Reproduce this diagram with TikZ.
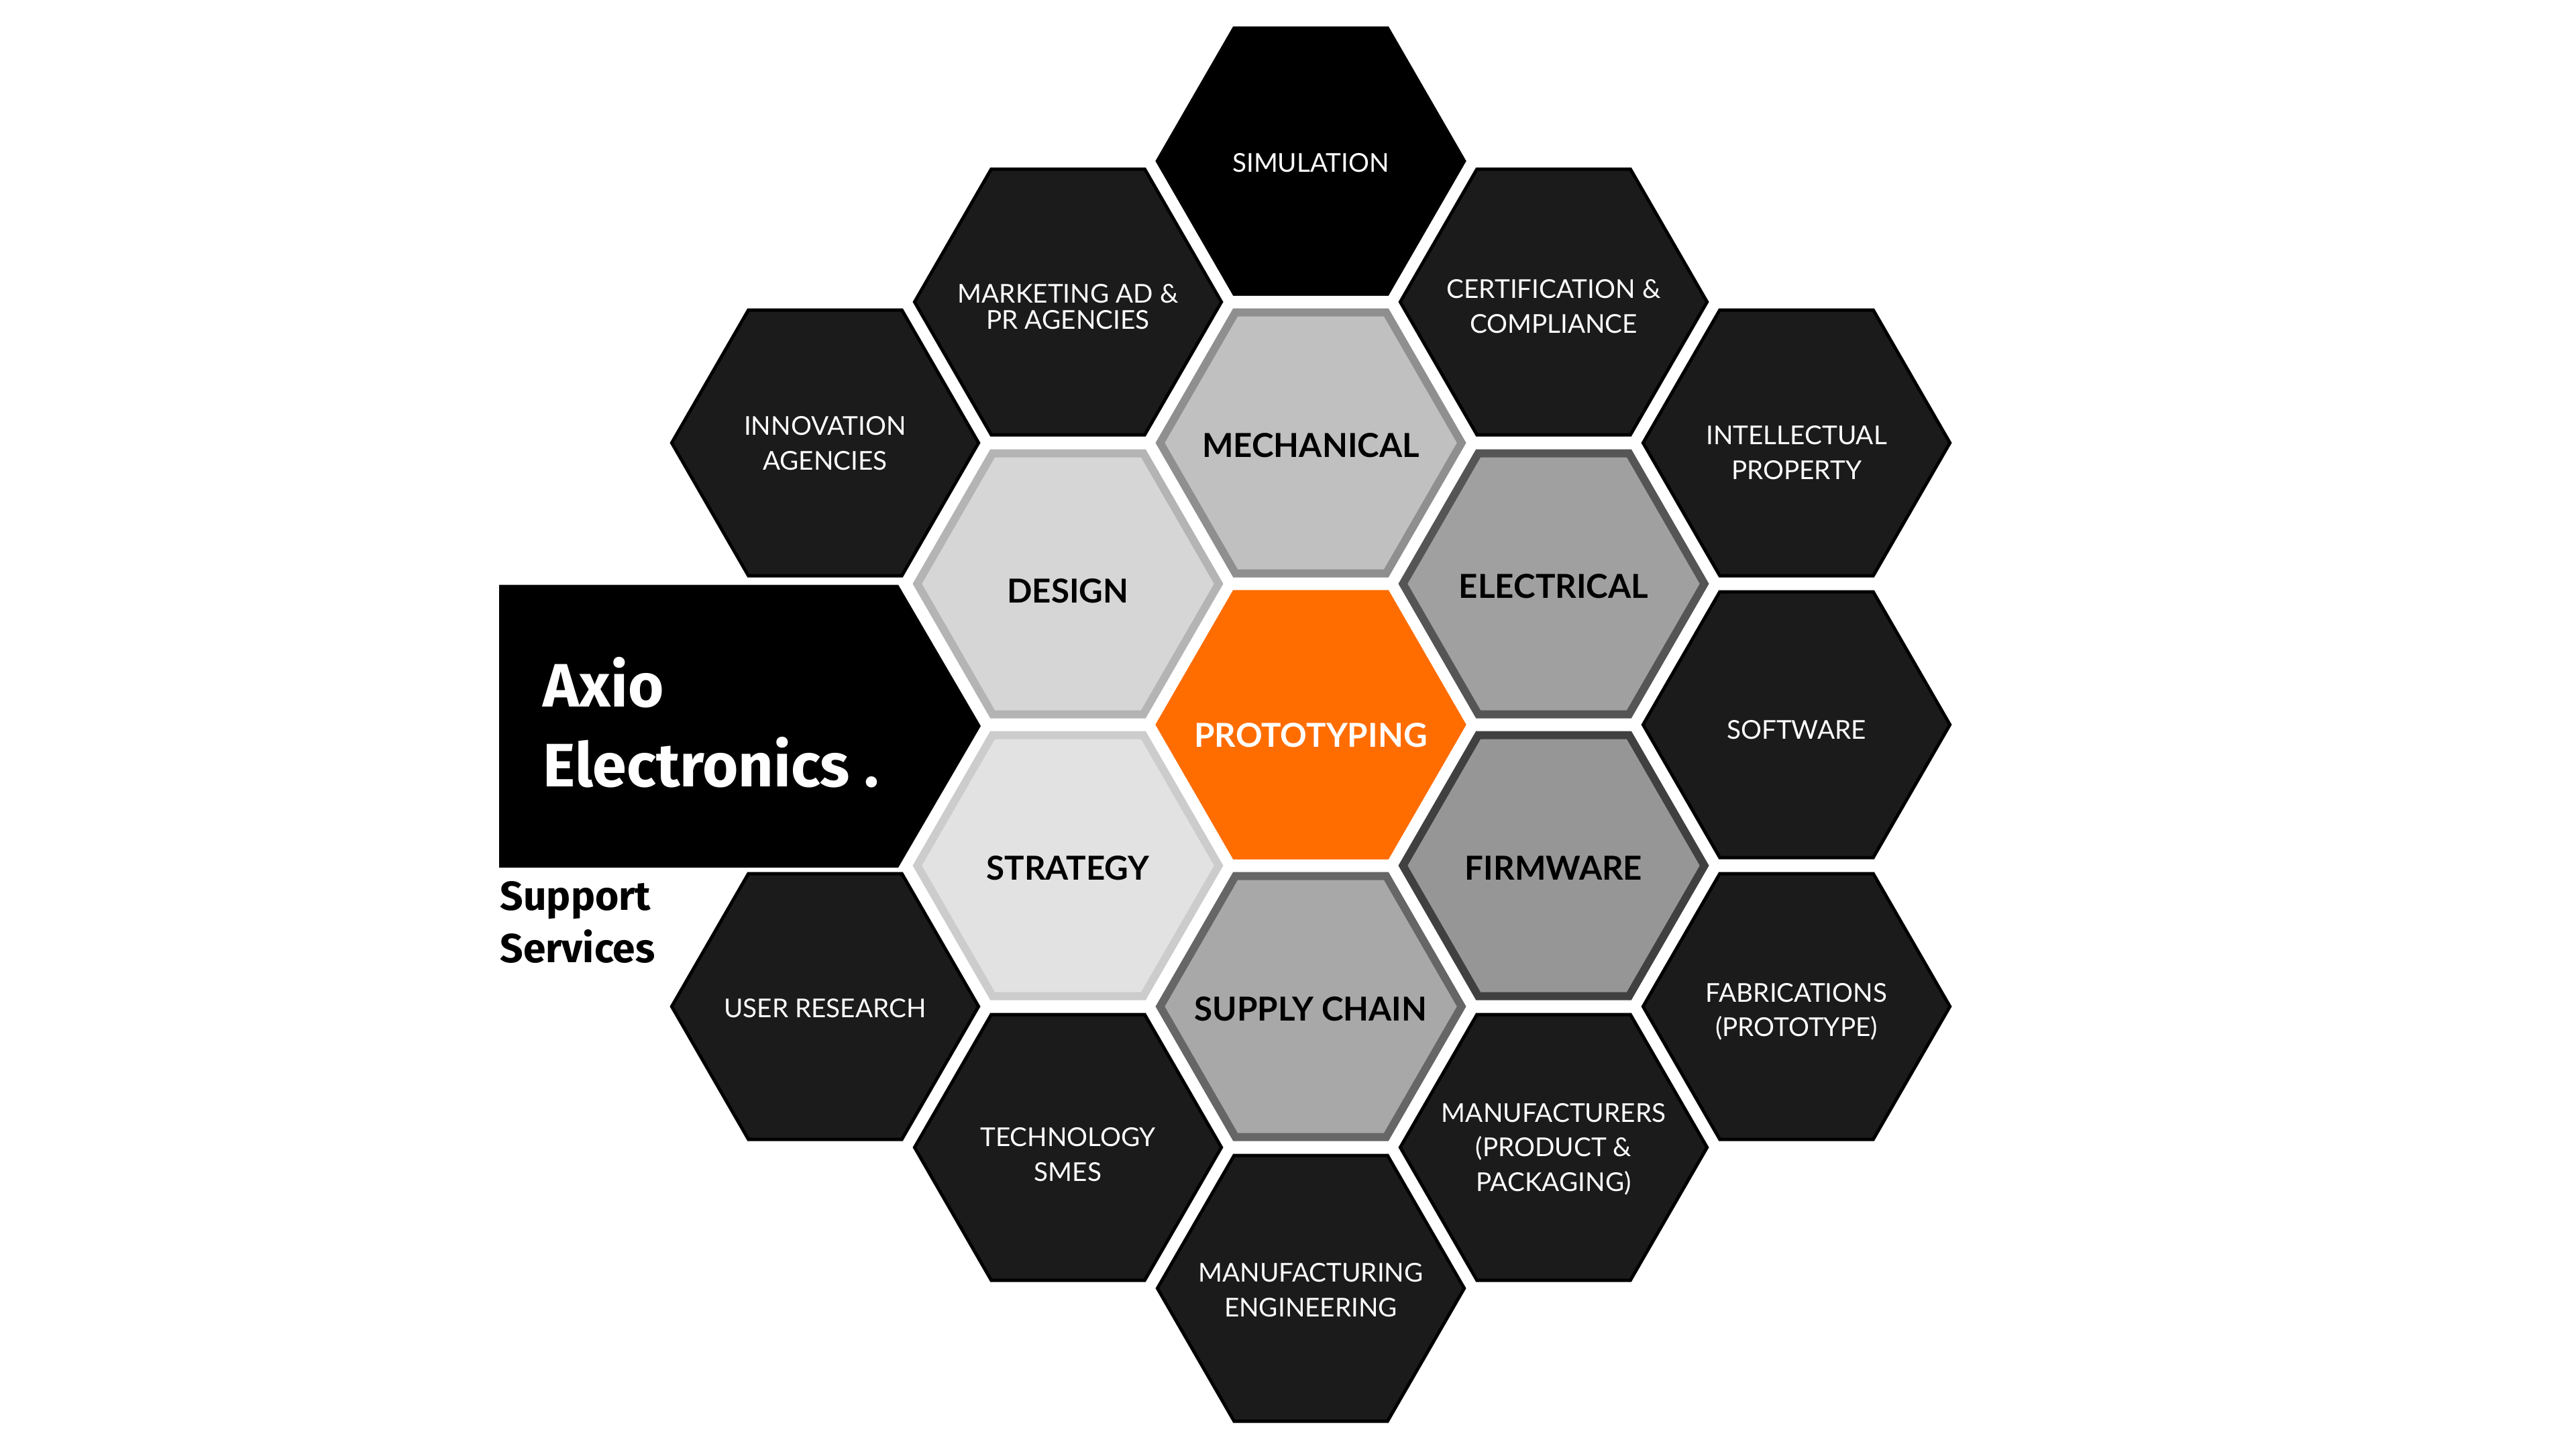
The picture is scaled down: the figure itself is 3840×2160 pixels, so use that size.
\documentclass[tikz,border=0pt]{standalone}
\usepackage{fontspec}
\setmainfont{Lato}
\newfontfamily\fira{Fira Sans}
\definecolor{orng}{HTML}{FF6D00}
\definecolor{dark}{HTML}{1B1B1B}
\definecolor{mechB}{HTML}{8F8F8F}\definecolor{mechF}{HTML}{C0C0C0}
\definecolor{desB}{HTML}{B4B4B4}\definecolor{desF}{HTML}{D6D6D6}
\definecolor{eleB}{HTML}{555555}\definecolor{eleF}{HTML}{A0A0A0}
\definecolor{strB}{HTML}{CCCCCC}\definecolor{strF}{HTML}{E2E2E2}
\definecolor{firB}{HTML}{404040}\definecolor{firF}{HTML}{969696}
\definecolor{supB}{HTML}{666666}\definecolor{supF}{HTML}{A8A8A8}
\newcommand{\hexfill}[3]{\fill[#2,shift={(#1)}] (#3*1.1547,0) -- (#3*0.57735,#3) -- (-#3*0.57735,#3) -- (-#3*1.1547,0) -- (-#3*0.57735,-#3) -- (#3*0.57735,-#3) -- cycle;}
\newcommand{\cell}[7]{\hexfill{#2}{#3}{200.5}\hexfill{#2}{#4}{#5}\node[#6] (#1) at (#2) {#7};}
\begin{document}
\begin{tikzpicture}[x=0.01cm,y=-0.01cm,
  outer/.style={text=white, align=center, inner sep=0pt, yshift=-0.025cm, font=\fontsize{11}{14.6}\selectfont},
  innerlab/.style={text=black, align=center, inner sep=0pt, yshift=-0.035cm, font=\bfseries\fontsize{14}{17}\selectfont},
  brand/.style={text=white, anchor=base west, inner sep=0pt, font=\fira\bfseries\fontsize{26}{30}\selectfont},
  sub/.style={text=black, anchor=base west, inner sep=0pt, font=\fira\bfseries\fontsize{17.2}{21}\selectfont}]
\fill[white] (0,0) rectangle (3840,2160);
\useasboundingbox (0,0) rectangle (3840,2160);
% brand box
\fill[black] (744,871.5) -- (1339,871.5) -- (1462,1082) -- (1339,1293) -- (744,1293) -- cycle;
\node[brand] (axio1) at (809,1053) {Axio};
\node[brand] (axio2) at (809,1172) {Electronics .};
\node[sub] (sup1) at (745,1356) {Support};
\node[sub] (sup2) at (745,1434) {Services};
% outer ring
\cell{sim}{1954,240}{black}{black}{200.5}{outer}{SIMULATION}
\cell{mkt}{1592,450}{black}{dark}{195.5}{outer, yshift=-0.05cm, font=\fontsize{11}{11.1}\selectfont}{MARKETING AD \&\\PR AGENCIES}
\cell{cert}{2316,450}{black}{dark}{195.5}{outer, yshift=-0.04cm}{CERTIFICATION \&\\COMPLIANCE}
\cell{innov}{1230,660}{black}{dark}{195.5}{outer, yshift=0.02cm}{INNOVATION\\AGENCIES}
\cell{ip}{2678,660}{black}{dark}{195.5}{outer, yshift=-0.12cm}{INTELLECTUAL\\PROPERTY}
\cell{soft}{2678,1080}{black}{dark}{195.5}{outer, yshift=-0.05cm}{SOFTWARE}
\cell{user}{1230,1500}{black}{dark}{195.5}{outer}{USER RESEARCH}
\cell{fab}{2678,1500}{black}{dark}{195.5}{outer, yshift=-0.05cm}{FABRICATIONS\\(PROTOTYPE)}
\cell{tech}{1592,1710}{black}{dark}{195.5}{outer, yshift=-0.08cm}{TECHNOLOGY\\SMES}
\cell{mfrs}{2316,1710}{black}{dark}{195.5}{outer}{MANUFACTURERS\\(PRODUCT \&\\PACKAGING)}
\cell{mfgeng}{1954,1920}{black}{dark}{195.5}{outer}{MANUFACTURING\\ENGINEERING}
% inner ring
\cell{mech}{1954,660}{mechB}{mechF}{188.5}{innerlab}{MECHANICAL}
\cell{design}{1592,870}{desB}{desF}{188.5}{innerlab, yshift=-0.07cm}{DESIGN}
\cell{elec}{2316,870}{eleB}{eleF}{188.5}{innerlab}{ELECTRICAL}
\cell{strat}{1592,1290}{strB}{strF}{188.5}{innerlab}{STRATEGY}
\cell{firm}{2316,1290}{firB}{firF}{188.5}{innerlab}{FIRMWARE}
\cell{supply}{1954,1500}{supB}{supF}{188.5}{innerlab}{SUPPLY CHAIN}
\cell{proto}{1954,1080}{orng}{orng}{200.5}{innerlab, text=white, yshift=-0.12cm}{PROTOTYPING}
\end{tikzpicture}
\end{document}
